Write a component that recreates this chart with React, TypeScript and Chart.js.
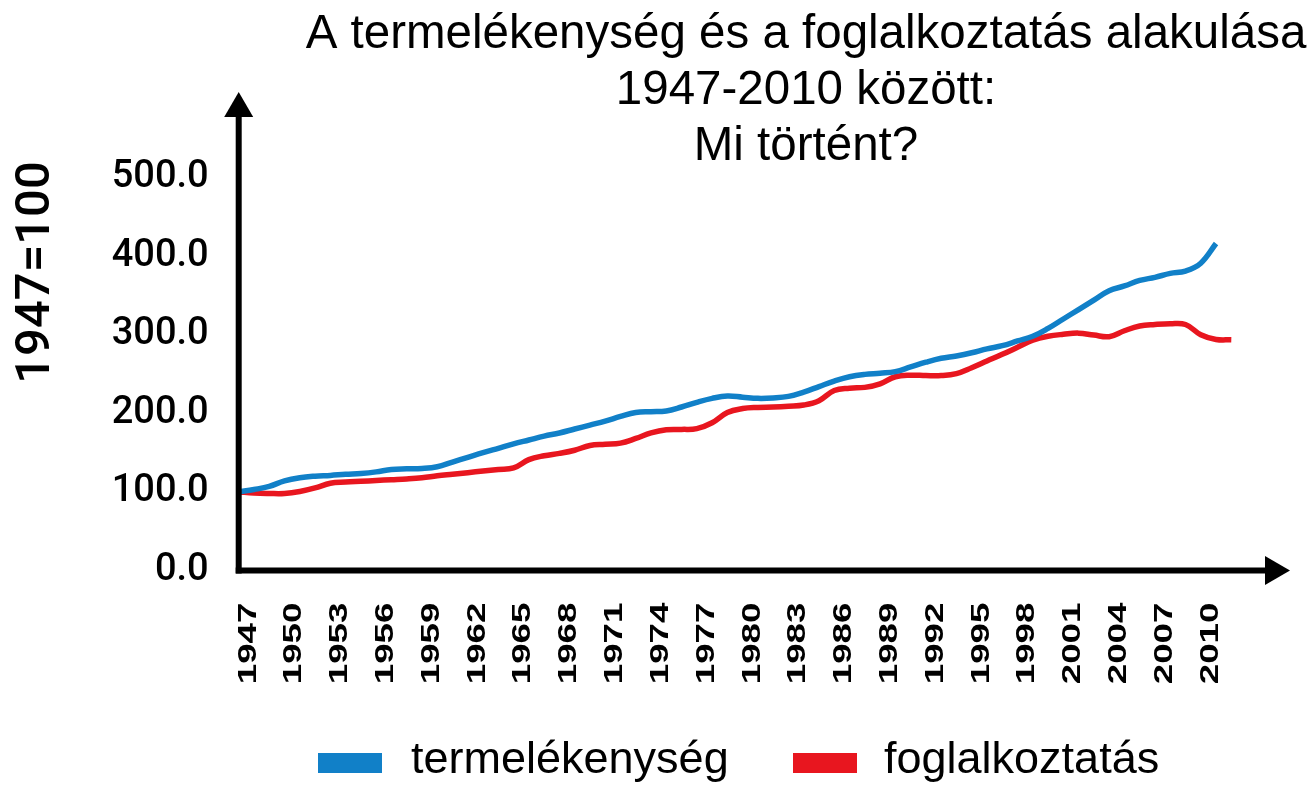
import React, { useEffect, useRef } from 'react';
import { Chart, registerables, CategoryScale } from 'chart.js';

Chart.register(...registerables);

// ---- data ----
const years = [
  '1947', '1948', '1949', '1950', '1951', '1952', '1953', '1954', '1955', '1956',
  '1957', '1958', '1959', '1960', '1961', '1962', '1963', '1964', '1965', '1966',
  '1967', '1968', '1969', '1970', '1971', '1972', '1973', '1974', '1975', '1976',
  '1977', '1978', '1979', '1980', '1981', '1982', '1983', '1984', '1985', '1986',
  '1987', '1988', '1989', '1990', '1991', '1992', '1993', '1994', '1995', '1996',
  '1997', '1998', '1999', '2000', '2001', '2002', '2003', '2004', '2005', '2006',
  '2007', '2008', '2009', '2010', '2011', '2012',
];

const termelekenyseg = [
  100, 103, 107, 114, 118, 120, 121, 122.5, 123.5, 125.5,
  128.5, 129.3, 129.8, 132, 138, 144, 150, 155.5, 161, 166,
  171, 175, 180, 185, 190, 196, 201, 202, 203, 208,
  214, 219, 222, 220.5, 219, 219.5, 221.5, 227, 234, 241,
  246.5, 249.5, 251, 253, 259, 265, 270, 273, 277, 282,
  286, 292, 298, 308, 320, 332, 344, 356, 362, 369,
  373, 378, 381, 391, 416,
];

const foglalkoztatas = [
  100, 98.5, 98, 98, 100.5, 105, 111, 112.5, 113.5, 114.5,
  115.5, 116.5, 118, 120.5, 122.5, 124.5, 126.5, 128.5, 130.5, 141,
  146, 149, 153, 159, 160.5, 162, 168, 175, 179, 179.5,
  180.5, 188, 201, 206, 207.5, 208, 209, 210.5, 216, 229,
  232, 233, 237.5, 246.5, 248.5, 248, 248, 250.5, 258, 266.5,
  275, 284, 293, 298, 300.5, 302, 299.5, 297.5, 305, 311,
  313, 314, 313, 300, 294, 293.5,
];

const seriesNames = ['termelékenység', 'foglalkoztatás'];
const titleLines = ['A termelékenység és a foglalkoztatás alakulása', '1947-2010 között:', 'Mi történt?'];
const yAxisTitle = '1947=100';
const yMin = 0;
const yMax = 500;
const yStep = 100;
const xLabelEvery = 3;

// ---- styles ----
const BLUE = '#1180C8';
const RED = '#E8161F';
const X_LABEL_STRETCH = 1.47;
const X_LABEL_SHIFT = 10;
const X_TICK_PADDING = 32;

class StretchedCategoryScale extends CategoryScale {
  static id = 'stretchedCategory';
  static defaults = CategoryScale.defaults;
  drawLabels(chartArea: any) {
    const ctx = (this as any).ctx as CanvasRenderingContext2D;
    const y0 = (this as any).top + X_TICK_PADDING;
    ctx.save();
    ctx.translate(X_LABEL_SHIFT, y0);
    ctx.scale(1, X_LABEL_STRETCH);
    ctx.translate(0, -y0);
    super.drawLabels(chartArea);
    ctx.restore();
  }
}
Chart.register(StretchedCategoryScale as any);

const decorPlugin = {
  id: 'decor',
  afterDatasetsDraw(chart: any) {
    const ctx = chart.ctx as CanvasRenderingContext2D;
    const { left, bottom } = chart.chartArea;
    ctx.save();
    ctx.fillStyle = '#000';
    const yTip = 92, yBase = 117, xTip = 1290, xBase = 1265, half = 14.5, w = 6;
    ctx.fillRect(left - w / 2, yBase - 1, w, bottom + w / 2 - yBase + 1);
    ctx.fillRect(left - w / 2, bottom - w / 2, xBase + 1 - (left - w / 2), w);
    ctx.beginPath();
    ctx.moveTo(left, yTip);
    ctx.lineTo(left + half, yBase);
    ctx.lineTo(left - half, yBase);
    ctx.closePath();
    ctx.fill();
    ctx.beginPath();
    ctx.moveTo(xTip, bottom);
    ctx.lineTo(xBase, bottom - half);
    ctx.lineTo(xBase, bottom + half);
    ctx.closePath();
    ctx.fill();
    ctx.restore();
  },
  afterDraw(chart: any) {
    const ctx = chart.ctx as CanvasRenderingContext2D;
    ctx.save();
    ctx.fillStyle = '#000';
    // title
    ctx.font = '47.5px "Liberation Sans", Arial, sans-serif';
    ctx.textAlign = 'center';
    ctx.textBaseline = 'alphabetic';
    const baselines = [48, 104, 160];
    titleLines.forEach((t, i) => ctx.fillText(t, 806, baselines[i]));
    // y axis title
    ctx.save();
    ctx.translate(37, 272.5);
    ctx.rotate(-Math.PI / 2);
    ctx.font = '500 49px Roboto, sans-serif';
    ctx.textAlign = 'center';
    ctx.textBaseline = 'middle';
    ctx.fillText(yAxisTitle, 0, 0);
    ctx.restore();
    // legend
    ctx.font = '45px "Liberation Sans", Arial, sans-serif';
    ctx.textAlign = 'left';
    ctx.textBaseline = 'alphabetic';
    const boxX = [318, 793];
    const textX = [411, 884];
    chart.data.datasets.forEach((ds: any, i: number) => {
      ctx.fillStyle = ds.borderColor;
      ctx.fillRect(boxX[i], 753, 64, 20);
      ctx.fillStyle = '#000';
      ctx.fillText(ds.label, textX[i], 773);
    });
    ctx.restore();
  },
};

export default function App() {
  const ref = useRef<HTMLCanvasElement>(null);
  useEffect(() => {
    const chart = new Chart(ref.current!, {
      type: 'line',
      data: {
        labels: years,
        datasets: [
          {
            label: seriesNames[0],
            data: termelekenyseg,
            borderColor: BLUE,
            backgroundColor: BLUE,
            borderWidth: 5.5,
            pointRadius: 0,
            tension: 0.4,
            fill: false,
          },
          {
            label: seriesNames[1],
            data: foglalkoztatas,
            borderColor: RED,
            backgroundColor: RED,
            borderWidth: 5.5,
            pointRadius: 0,
            tension: 0.4,
            fill: false,
          },
        ],
      },
      options: {
        animation: false,
        responsive: false,
        devicePixelRatio: 1,
        layout: { padding: { top: 177.5, right: 84.7, bottom: 96.5, left: 0 } },
        plugins: { legend: { display: false }, title: { display: false }, tooltip: { enabled: false } },
        scales: {
          x: {
            type: 'stretchedCategory' as any,
            offset: false,
            grid: { display: false, drawTicks: false },
            border: { display: false },
            ticks: {
              autoSkip: false,
              minRotation: 90,
              maxRotation: 90,
              padding: X_TICK_PADDING,
              color: '#000',
              font: { family: '"Liberation Sans", Arial, sans-serif', size: 25, weight: 'bold', lineHeight: 0.67 },
              callback: (_v: any, i: number) => (i % xLabelEvery === 0 ? years[i] : ''),
            },
            afterFit: (s: any) => { s.height = 120; },
          },
          y: {
            min: yMin,
            max: yMax,
            grid: { display: false, drawTicks: false },
            border: { display: false },
            ticks: {
              stepSize: yStep,
              padding: 30,
              color: '#000',
              font: { family: 'Roboto, sans-serif', size: 38, weight: '500' as any },
              callback: (v: any) => Number(v).toFixed(1),
            },
            afterFit: (s: any) => { s.width = 238.7; },
          },
        },
      },
      plugins: [decorPlugin],
    } as any);
    return () => chart.destroy();
  }, []);
  return (
    <div style={{ position: 'fixed', left: 0, top: 0, width: 1316, height: 787, background: '#fff' }}>
      <canvas ref={ref} width={1316} height={787} style={{ display: 'block' }} />
    </div>
  );
}
